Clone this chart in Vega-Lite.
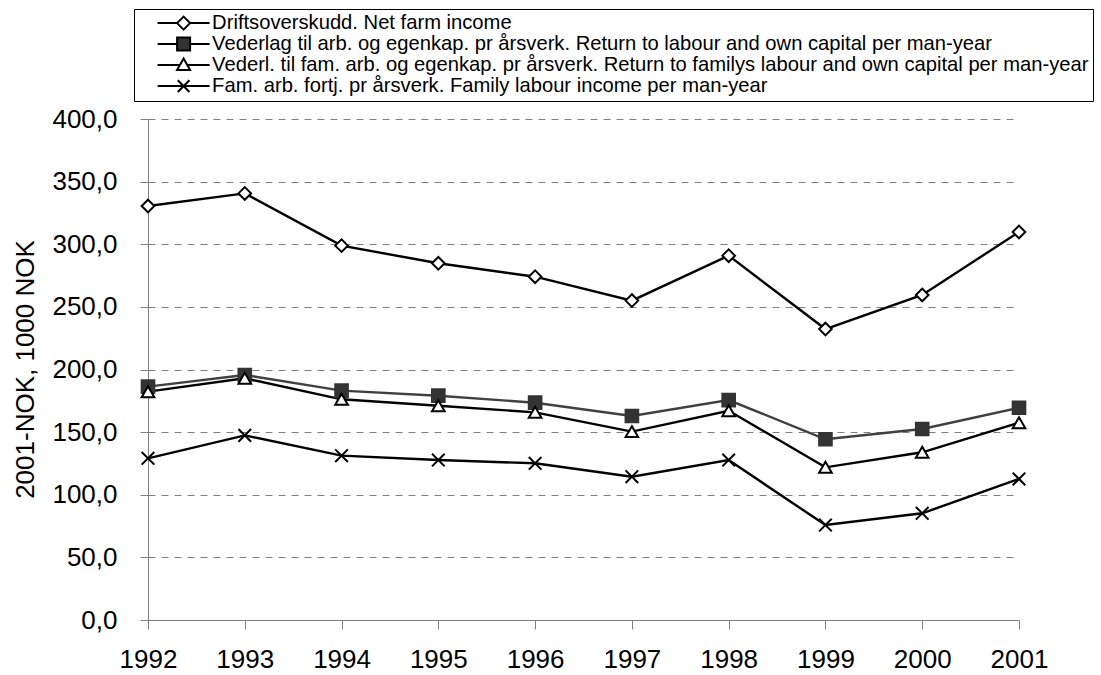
{
  "$schema": "https://vega.github.io/schema/vega-lite/v6.json",
  "width": 871,
  "height": 501,
  "autosize": {"type": "none"},
  "padding": {"left": 148, "top": 119, "right": 82, "bottom": 55},
  "background": "white",
  "config": {
    "view": {"stroke": null},
    "font": "Liberation Sans"
  },
  "data": {
    "values": [
      {"year": "1992", "series": "Driftsoverskudd. Net farm income", "value": 330.5},
      {"year": "1993", "series": "Driftsoverskudd. Net farm income", "value": 340.6},
      {"year": "1994", "series": "Driftsoverskudd. Net farm income", "value": 298.9},
      {"year": "1995", "series": "Driftsoverskudd. Net farm income", "value": 284.8},
      {"year": "1996", "series": "Driftsoverskudd. Net farm income", "value": 274.1},
      {"year": "1997", "series": "Driftsoverskudd. Net farm income", "value": 255.0},
      {"year": "1998", "series": "Driftsoverskudd. Net farm income", "value": 290.9},
      {"year": "1999", "series": "Driftsoverskudd. Net farm income", "value": 232.3},
      {"year": "2000", "series": "Driftsoverskudd. Net farm income", "value": 259.5},
      {"year": "2001", "series": "Driftsoverskudd. Net farm income", "value": 309.8},
      {"year": "1992", "series": "Vederlag til arb. og egenkap. pr årsverk. Return to labour and own capital per man-year", "value": 186.3},
      {"year": "1993", "series": "Vederlag til arb. og egenkap. pr årsverk. Return to labour and own capital per man-year", "value": 195.6},
      {"year": "1994", "series": "Vederlag til arb. og egenkap. pr årsverk. Return to labour and own capital per man-year", "value": 183.1},
      {"year": "1995", "series": "Vederlag til arb. og egenkap. pr årsverk. Return to labour and own capital per man-year", "value": 179.1},
      {"year": "1996", "series": "Vederlag til arb. og egenkap. pr årsverk. Return to labour and own capital per man-year", "value": 173.5},
      {"year": "1997", "series": "Vederlag til arb. og egenkap. pr årsverk. Return to labour and own capital per man-year", "value": 162.9},
      {"year": "1998", "series": "Vederlag til arb. og egenkap. pr årsverk. Return to labour and own capital per man-year", "value": 175.6},
      {"year": "1999", "series": "Vederlag til arb. og egenkap. pr årsverk. Return to labour and own capital per man-year", "value": 144.3},
      {"year": "2000", "series": "Vederlag til arb. og egenkap. pr årsverk. Return to labour and own capital per man-year", "value": 152.5},
      {"year": "2001", "series": "Vederlag til arb. og egenkap. pr årsverk. Return to labour and own capital per man-year", "value": 169.5},
      {"year": "1992", "series": "Vederl. til fam. arb. og egenkap. pr årsverk. Return to familys labour and own capital per man-year", "value": 182.3},
      {"year": "1993", "series": "Vederl. til fam. arb. og egenkap. pr årsverk. Return to familys labour and own capital per man-year", "value": 193.0},
      {"year": "1994", "series": "Vederl. til fam. arb. og egenkap. pr årsverk. Return to familys labour and own capital per man-year", "value": 176.2},
      {"year": "1995", "series": "Vederl. til fam. arb. og egenkap. pr årsverk. Return to familys labour and own capital per man-year", "value": 171.1},
      {"year": "1996", "series": "Vederl. til fam. arb. og egenkap. pr årsverk. Return to familys labour and own capital per man-year", "value": 165.8},
      {"year": "1997", "series": "Vederl. til fam. arb. og egenkap. pr årsverk. Return to familys labour and own capital per man-year", "value": 150.4},
      {"year": "1998", "series": "Vederl. til fam. arb. og egenkap. pr årsverk. Return to familys labour and own capital per man-year", "value": 167.1},
      {"year": "1999", "series": "Vederl. til fam. arb. og egenkap. pr årsverk. Return to familys labour and own capital per man-year", "value": 121.9},
      {"year": "2000", "series": "Vederl. til fam. arb. og egenkap. pr årsverk. Return to familys labour and own capital per man-year", "value": 133.9},
      {"year": "2001", "series": "Vederl. til fam. arb. og egenkap. pr årsverk. Return to familys labour and own capital per man-year", "value": 157.5},
      {"year": "1992", "series": "Fam. arb. fortj. pr årsverk.  Family labour income per man-year", "value": 129.1},
      {"year": "1993", "series": "Fam. arb. fortj. pr årsverk.  Family labour income per man-year", "value": 147.4},
      {"year": "1994", "series": "Fam. arb. fortj. pr årsverk.  Family labour income per man-year", "value": 131.2},
      {"year": "1995", "series": "Fam. arb. fortj. pr årsverk.  Family labour income per man-year", "value": 127.7},
      {"year": "1996", "series": "Fam. arb. fortj. pr årsverk.  Family labour income per man-year", "value": 125.1},
      {"year": "1997", "series": "Fam. arb. fortj. pr årsverk.  Family labour income per man-year", "value": 114.4},
      {"year": "1998", "series": "Fam. arb. fortj. pr årsverk.  Family labour income per man-year", "value": 127.7},
      {"year": "1999", "series": "Fam. arb. fortj. pr årsverk.  Family labour income per man-year", "value": 75.8},
      {"year": "2000", "series": "Fam. arb. fortj. pr årsverk.  Family labour income per man-year", "value": 85.2},
      {"year": "2001", "series": "Fam. arb. fortj. pr årsverk.  Family labour income per man-year", "value": 112.6}
    ]
  },
  "encoding": {
    "x": {
      "field": "year", "type": "ordinal",
      "scale": {"type": "point", "padding": 0},
      "axis": {
        "title": null, "labelAngle": 0, "labelFontSize": 26, "labelFont": "Liberation Sans",
        "labelColor": "black", "domainColor": "#808080", "tickColor": "#808080",
        "tickSize": 9, "labelPadding": 17, "grid": false, "domainWidth": 1
      }
    },
    "y": {
      "field": "value", "type": "quantitative",
      "scale": {"domain": [0, 400], "nice": false, "zero": true},
      "axis": {
        "title": "2001-NOK, 1000 NOK",
        "values": [0, 50, 100, 150, 200, 250, 300, 350, 400],
        "labelExpr": "replace(format(datum.value, '.1f'), '.', ',')",
        "labelFontSize": 26, "labelFont": "Liberation Sans", "labelColor": "black",
        "labelPadding": 23, "tickSize": 8, "tickColor": "#808080",
        "domainColor": "#808080", "domainWidth": 1,
        "grid": true, "gridColor": "#808080", "gridDash": [7, 6], "gridWidth": 1,
        "titleFontSize": 26, "titleFont": "Liberation Sans", "titleFontWeight": "normal",
        "titleColor": "black", "titleX": -123, "titleY": 250, "titleBaseline": "middle", "titleAlign": "center"
      }
    }
  },
  "resolve": {"scale": {"shape": "independent", "fill": "independent", "stroke": "independent"}},
  "layer": [
    {
      "mark": {"type": "line", "strokeWidth": 2.4},
      "encoding": {
        "detail": {"field": "series"},
        "color": {
          "field": "series", "type": "nominal", "legend": null,
          "scale": {
            "domain": [
              "Vederlag til arb. og egenkap. pr årsverk. Return to labour and own capital per man-year",
              "Driftsoverskudd. Net farm income",
              "Vederl. til fam. arb. og egenkap. pr årsverk. Return to familys labour and own capital per man-year",
              "Fam. arb. fortj. pr årsverk.  Family labour income per man-year"
            ],
            "range": ["#404040", "black", "black", "black"]
          }
        }
      }
    },
    {
      "mark": {"type": "point", "strokeWidth": 2, "size": 160, "opacity": 1},
      "encoding": {
        "shape": {
          "field": "series", "type": "nominal", "legend": null,
          "scale": {
            "domain": [
              "Driftsoverskudd. Net farm income",
              "Vederlag til arb. og egenkap. pr årsverk. Return to labour and own capital per man-year",
              "Vederl. til fam. arb. og egenkap. pr årsverk. Return to familys labour and own capital per man-year",
              "Fam. arb. fortj. pr årsverk.  Family labour income per man-year"
            ],
            "range": ["diamond", "square", "triangle-up", "M-1,-1L1,1M-1,1L1,-1"]
          }
        },
        "fill": {
          "field": "series", "type": "nominal", "legend": null,
          "scale": {
            "domain": [
              "Driftsoverskudd. Net farm income",
              "Vederlag til arb. og egenkap. pr årsverk. Return to labour and own capital per man-year",
              "Vederl. til fam. arb. og egenkap. pr årsverk. Return to familys labour and own capital per man-year",
              "Fam. arb. fortj. pr årsverk.  Family labour income per man-year"
            ],
            "range": ["white", "#333333", "white", "transparent"]
          }
        },
        "stroke": {
          "field": "series", "type": "nominal", "legend": null,
          "scale": {
            "domain": [
              "Driftsoverskudd. Net farm income",
              "Vederlag til arb. og egenkap. pr årsverk. Return to labour and own capital per man-year",
              "Vederl. til fam. arb. og egenkap. pr årsverk. Return to familys labour and own capital per man-year",
              "Fam. arb. fortj. pr årsverk.  Family labour income per man-year"
            ],
            "range": ["black", "#333333", "black", "black"]
          }
        }
      }
    },
    {
      "mark": {"type": "point", "strokeWidth": 2, "size": 169, "opacity": 0},
      "encoding": {
        "shape": {
          "field": "series", "type": "nominal",
          "scale": {
            "domain": [
              "Driftsoverskudd. Net farm income",
              "Vederlag til arb. og egenkap. pr årsverk. Return to labour and own capital per man-year",
              "Vederl. til fam. arb. og egenkap. pr årsverk. Return to familys labour and own capital per man-year",
              "Fam. arb. fortj. pr årsverk.  Family labour income per man-year"
            ],
            "range": [
              "M-4,0H-1M1,0H4M-1,0L0,-1L1,0L0,1Z",
              "M-4,0H-1M1,0H4M-1,-1H1V1H-1Z",
              "M-4,0H-0.57M0.57,0H4M0,-1L1,0.75H-1Z",
              "M-4,0H4M-0.9,-0.9L0.9,0.9M-0.9,0.9L0.9,-0.9"
            ]
          },
          "legend": {
            "title": null,
            "orient": "none",
            "legendX": -14,
            "legendY": -110,
            "strokeColor": "black",
            "fillColor": "white",
            "padding": 4,
            "rowPadding": -2,
            "labelFontSize": 20.2,
            "labelFont": "Liberation Sans",
            "labelColor": "black",
            "labelLimit": 0,
            "symbolSize": 169,
            "symbolStrokeWidth": 2,
            "symbolOpacity": 1,
            "symbolOffset": 35.5,
            "labelOffset": 18.4,
            "labelExpr": "datum.label + '\u00a0\u00a0\u00a0\u00a0'"
          }
        },
        "fill": {
          "field": "series", "type": "nominal",
          "legend": {"title": null},
          "scale": {
            "domain": [
              "Driftsoverskudd. Net farm income",
              "Vederlag til arb. og egenkap. pr årsverk. Return to labour and own capital per man-year",
              "Vederl. til fam. arb. og egenkap. pr årsverk. Return to familys labour and own capital per man-year",
              "Fam. arb. fortj. pr årsverk.  Family labour income per man-year"
            ],
            "range": ["white", "#333333", "white", "transparent"]
          }
        },
        "stroke": {
          "field": "series", "type": "nominal",
          "legend": {"title": null},
          "scale": {
            "domain": [
              "Driftsoverskudd. Net farm income",
              "Vederlag til arb. og egenkap. pr årsverk. Return to labour and own capital per man-year",
              "Vederl. til fam. arb. og egenkap. pr årsverk. Return to familys labour and own capital per man-year",
              "Fam. arb. fortj. pr årsverk.  Family labour income per man-year"
            ],
            "range": ["black", "black", "black", "black"]
          }
        }
      }
    }
  ]
}
